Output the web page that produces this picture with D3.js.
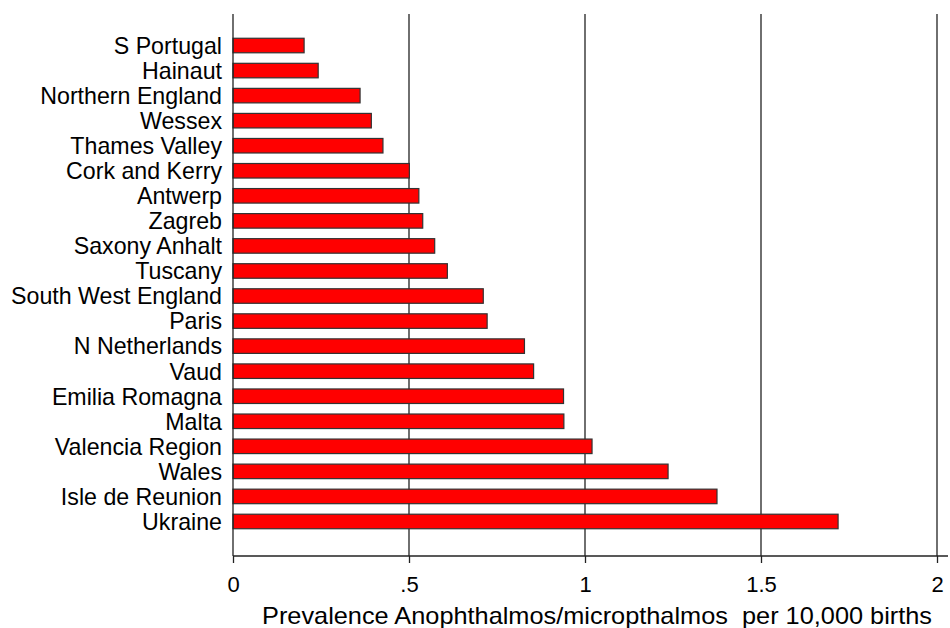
<!DOCTYPE html>
<html>
<head>
<meta charset="utf-8">
<script src="https://cdn.jsdelivr.net/npm/d3@7"></script>
<style>
  html, body { margin: 0; padding: 0; background: #fff; }
  svg { display: block; font-family: "Liberation Sans", Arial, sans-serif; }
</style>
</head>
<body>
<svg id="chart" width="950" height="628"></svg>
<script>
const regions = ["S Portugal","Hainaut","Northern England","Wessex","Thames Valley","Cork and Kerry","Antwerp","Zagreb","Saxony Anhalt","Tuscany","South West England","Paris","N Netherlands","Vaud","Emilia Romagna","Malta","Valencia Region","Wales","Isle de Reunion","Ukraine"];
const prevalence = [0.202,0.242,0.361,0.393,0.426,0.501,0.528,0.539,0.573,0.609,0.711,0.722,0.828,0.854,0.939,0.940,1.020,1.236,1.375,1.719];
const xTicks = [0, 0.5, 1, 1.5, 2];
const xTickLabels = ["0", ".5", "1", "1.5", "2"];
const xTitle = "Prevalence Anophthalmos/micropthalmos  per 10,000 births";

const svg = d3.select("#chart");
const x = d3.scaleLinear().domain([0, 2]).range([233, 937]);
const y = d3.scaleBand().domain(regions).range([33, 534]).paddingInner(0.42).paddingOuter(0.21);
const plotTop = 14, axisY = 556;

// gridlines
svg.append("g").selectAll("line").data(xTicks.filter(d => d > 0)).join("line")
  .attr("x1", d => x(d)).attr("x2", d => x(d))
  .attr("y1", plotTop).attr("y2", axisY)
  .attr("stroke", "#222").attr("stroke-width", 1.3);

// bars
svg.append("g").selectAll("rect").data(regions).join("rect")
  .attr("x", x(0))
  .attr("y", d => y(d))
  .attr("width", (d, i) => x(prevalence[i]) - x(0))
  .attr("height", y.bandwidth())
  .attr("fill", "#ff0000")
  .attr("stroke", "#333").attr("stroke-width", 1.2);

// y axis line
svg.append("line").attr("x1", x(0)).attr("x2", x(0)).attr("y1", plotTop).attr("y2", axisY)
  .attr("stroke", "#222").attr("stroke-width", 1.3);

// y labels
svg.append("g").selectAll("text").data(regions).join("text")
  .attr("x", 222)
  .attr("y", d => y(d) + y.bandwidth() / 2)
  .attr("dy", "0.36em")
  .attr("text-anchor", "end")
  .attr("font-size", 23.2)
  .attr("fill", "#000")
  .text(d => d);

// x axis
const xAxis = d3.axisBottom(x).tickValues(xTicks)
  .tickFormat((d, i) => xTickLabels[i]).tickSize(7).tickPadding(13);
const gx = svg.append("g").attr("transform", `translate(0,${axisY})`).call(xAxis);
gx.select(".domain").remove();
gx.selectAll(".tick line").attr("stroke", "#222").attr("stroke-width", 1.3);
gx.selectAll(".tick text").attr("font-size", 22).attr("fill", "#000")
  .attr("font-family", "Liberation Sans, Arial, sans-serif");
svg.append("line").attr("x1", x(0)).attr("x2", 948).attr("y1", axisY).attr("y2", axisY)
  .attr("stroke", "#222").attr("stroke-width", 1.3);

// x title
svg.append("text")
  .attr("x", 262).attr("y", 624)
  .attr("font-size", 24)
  .attr("textLength", 670)
  .attr("lengthAdjust", "spacingAndGlyphs")
  .attr("fill", "#000")
  .style("white-space", "pre")
  .text(xTitle);
</script>
</body>
</html>
